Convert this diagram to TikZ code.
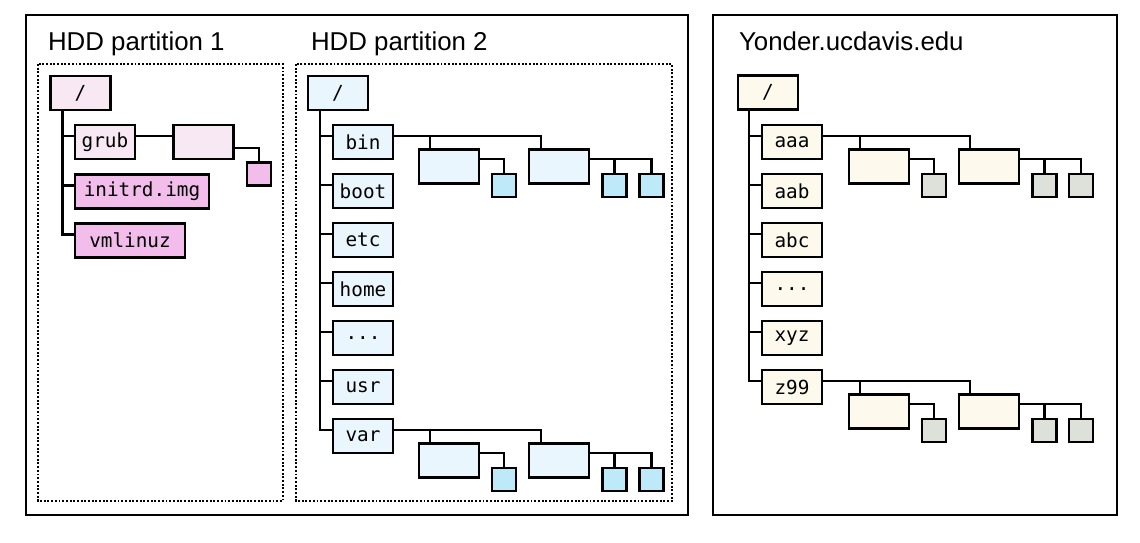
\documentclass[tikz,border=0pt]{standalone}
\usepackage{fontspec}
\setmainfont{Liberation Sans}
\newfontfamily\dirfont{DejaVu Sans Mono}
\definecolor{pinkA}{HTML}{F7E8F3}
\definecolor{pinkB}{HTML}{F2BDEA}
\definecolor{blueA}{HTML}{EAF6FD}
\definecolor{blueB}{HTML}{BDE9F9}
\definecolor{creamA}{HTML}{FDF9EC}
\definecolor{greyB}{HTML}{DEE0DA}

\begin{document}
\begin{tikzpicture}[x=0.02cm,y=-0.02cm,line width=1.25pt,
  dir/.style={draw,rectangle,minimum width=1.2cm,minimum height=0.68cm,inner sep=0pt,font=\dirfont\fontsize{11}{12}\selectfont},
  leaf/.style={draw,rectangle,minimum width=0.48cm,minimum height=0.46cm,inner sep=0pt},
  title/.style={anchor=base west,inner sep=0pt,font=\fontsize{14.7}{17}\selectfont},
  part/.style={line width=1.1pt,dash pattern=on 1.1pt off 1pt}]
\useasboundingbox (0,0) rectangle (1140,542);
\draw (26,15) rectangle (688,515);
\draw (713,15) rectangle (1117,515);
\draw[part] (38,64) rectangle (283,501);
\draw[part] (296,64) rectangle (672,501);
\node[title] (t1) at (47,50) {HDD partition 1};
\node[title] (t2) at (310,50) {HDD partition 2};
\node[title] (t3) at (738,50) {Yonder.ucdavis.edu};

% partition 1
\node[dir,fill=pinkA] (r1) at (80.5,93) {/};
\node[dir,fill=pinkA] (grub) at (105,142) {grub};
\node[dir,fill=pinkB,minimum width=2.68cm] (initrd) at (142,191.5) {initrd.img};
\node[dir,fill=pinkB,minimum width=2.2cm] (vmlinuz) at (130,240.5) {vmlinuz};
\node[dir,fill=pinkA] (grub1) at (203.5,142) {};
\node[leaf,fill=pinkB] (grubf) at (259,174) {};
\foreach \n in {grub,initrd,vmlinuz}
  \draw ([xshift=0.26cm]r1.south west) |- ([yshift=0.12cm]\n.west);
\draw ([yshift=0.12cm]grub.east) -- ([yshift=0.12cm]grub1.west);
\draw ([yshift=-0.12cm]grub1.east) -| (grubf.north);

% partition 2
\node[dir,fill=blueA] (r2) at (338,93) {/};
\node[dir,fill=blueA] (bin) at (363,142) {bin};
\node[dir,fill=blueA] (boot) at (363,191) {boot};
\node[dir,fill=blueA] (etc) at (363,240) {etc};
\node[dir,fill=blueA] (home) at (363,289) {home};
\node[dir,fill=blueA] (more2) at (363,338) {...};
\node[dir,fill=blueA] (usr) at (363,387) {usr};
\node[dir,fill=blueA] (var) at (363,436) {var};
\foreach \n in {bin,boot,etc,home,more2,usr,var}
  \draw ([xshift=0.26cm]r2.south west) |- ([yshift=0.12cm]\n.west);
\node[dir,fill=blueA] (bin1) at (449,166.5) {};
\node[dir,fill=blueA] (bin2) at (559,166.5) {};
\node[leaf,fill=blueB] (bin1a) at (504,185.5) {};
\node[leaf,fill=blueB] (bin2a) at (614.5,185.5) {};
\node[leaf,fill=blueB] (bin2b) at (651.5,185.5) {};
\draw ([yshift=0.12cm]bin.east) -| ([xshift=0.24cm]bin1.north west);
\draw ([yshift=0.12cm]bin.east) -| ([xshift=0.26cm]bin2.north west);
\draw ([yshift=0.15cm]bin1.east) -| (bin1a.north);
\draw ([yshift=0.15cm]bin2.east) -| (bin2a.north);
\draw ([yshift=0.15cm]bin2.east) -| (bin2b.north);
\node[dir,fill=blueA] (var1) at (449,460.5) {};
\node[dir,fill=blueA] (var2) at (559,460.5) {};
\node[leaf,fill=blueB] (var1a) at (504,479.5) {};
\node[leaf,fill=blueB] (var2a) at (614.5,479.5) {};
\node[leaf,fill=blueB] (var2b) at (651.5,479.5) {};
\draw ([yshift=0.12cm]var.east) -| ([xshift=0.24cm]var1.north west);
\draw ([yshift=0.12cm]var.east) -| ([xshift=0.26cm]var2.north west);
\draw ([yshift=0.15cm]var1.east) -| (var1a.north);
\draw ([yshift=0.15cm]var2.east) -| (var2a.north);
\draw ([yshift=0.15cm]var2.east) -| (var2b.north);

% remote host
\node[dir,fill=creamA] (r3) at (768,92.5) {/};
\node[dir,fill=creamA] (aaa) at (792,142) {aaa};
\node[dir,fill=creamA] (aab) at (792,191) {aab};
\node[dir,fill=creamA] (abc) at (792,240) {abc};
\node[dir,fill=creamA] (more3) at (792,289) {...};
\node[dir,fill=creamA] (xyz) at (792,338) {xyz};
\node[dir,fill=creamA] (z99) at (792,387) {z99};
\foreach \n in {aaa,aab,abc,more3,xyz,z99}
  \draw ([xshift=0.24cm]r3.south west) |- ([yshift=0.12cm]\n.west);
\node[dir,fill=creamA] (aaa1) at (879,166.5) {};
\node[dir,fill=creamA] (aaa2) at (989,166.5) {};
\node[leaf,fill=greyB] (aaa1a) at (934,185.5) {};
\node[leaf,fill=greyB] (aaa2a) at (1044.5,185.5) {};
\node[leaf,fill=greyB] (aaa2b) at (1081,185.5) {};
\draw ([yshift=0.12cm]aaa.east) -| ([xshift=0.24cm]aaa1.north west);
\draw ([yshift=0.12cm]aaa.east) -| ([xshift=0.24cm]aaa2.north west);
\draw ([yshift=0.15cm]aaa1.east) -| (aaa1a.north);
\draw ([yshift=0.15cm]aaa2.east) -| (aaa2a.north);
\draw ([yshift=0.15cm]aaa2.east) -| (aaa2b.north);
\node[dir,fill=creamA] (z991) at (879,411.5) {};
\node[dir,fill=creamA] (z992) at (989,411.5) {};
\node[leaf,fill=greyB] (z991a) at (934,430.5) {};
\node[leaf,fill=greyB] (z992a) at (1044.5,430.5) {};
\node[leaf,fill=greyB] (z992b) at (1081,430.5) {};
\draw ([yshift=0.12cm]z99.east) -| ([xshift=0.24cm]z991.north west);
\draw ([yshift=0.12cm]z99.east) -| ([xshift=0.24cm]z992.north west);
\draw ([yshift=0.15cm]z991.east) -| (z991a.north);
\draw ([yshift=0.15cm]z992.east) -| (z992a.north);
\draw ([yshift=0.15cm]z992.east) -| (z992b.north);
\end{tikzpicture}
\end{document}
